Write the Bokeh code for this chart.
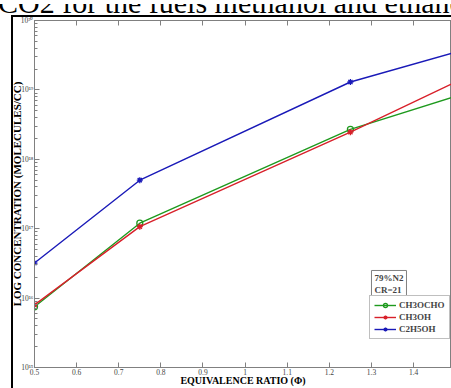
from bokeh.plotting import figure
from bokeh.layouts import column
from bokeh.models import (Range1d, LinearAxis, Label, CustomJSTickFormatter, FixedTicker,
                          Legend, LegendItem, Div)
from bokeh.embed import file_html
from bokeh.resources import INLINE

# ---- data ----
phi = [0.5, 0.75, 1.25, 1.5]
ch3ocho = [7.5e15, 1.2e17, 2.7e18, 8.1e18]
ch3oh = [8.0e15, 1.07e17, 2.46e18, 1.3e19]
c2h5oh = [3.2e16, 5.0e17, 1.3e19, 3.5e19]
series_names = ["CH3OCHO", "CH3OH", "C2H5OH"]
x_ticks = [0.5, 0.6, 0.7, 0.8, 0.9, 1.0, 1.1, 1.2, 1.3, 1.4, 1.5]
x_tick_labels = ["0.5", "0.6", "0.7", "0.8", "0.9", "1", "1.1", "1.2", "1.3", "1.4", "1.5"]
y_ticks = [1e15, 1e16, 1e17, 1e18, 1e19, 1e20]
caption = "CO2 for the fuels methanol and ethanol"
note = "79%N2\nCR=21"

GRAY = "#808080"
SERIF = "Liberation Serif"
NARROW = "Liberation Sans Narrow"

p = figure(width=451, height=380, output_backend="svg", toolbar_location=None,
           y_axis_type="log", x_range=Range1d(0.5, 1.49), y_range=Range1d(1e15, 1e20),
           min_border_left=34, min_border_right=0, min_border_top=12, min_border_bottom=20,
           margin=(0, 0, 0, 0))
p.background_fill_color = "white"
p.border_fill_color = "white"
p.outline_line_color = GRAY
p.grid.visible = False

minor = [k * t for t in y_ticks[:-1] for k in range(2, 10)]

xa = p.xaxis[0]
xa.ticker = FixedTicker(ticks=x_ticks, minor_ticks=[])
xa.major_label_overrides = {t: l for t, l in zip(x_ticks, x_tick_labels)}
xa.axis_label = "EQUIVALENCE RATIO (\u03a6)"
ya = p.yaxis[0]
ya.ticker = FixedTicker(ticks=y_ticks, minor_ticks=minor)
ya.formatter = CustomJSTickFormatter(code="""
const sup = {'0':'\u2070','1':'\u00b9','2':'\u00b2','3':'\u00b3','4':'\u2074','5':'\u2075','6':'\u2076','7':'\u2077','8':'\u2078','9':'\u2079'};
const e = Math.round(Math.log10(tick)).toString();
return '10' + e.split('').map(c => sup[c]).join('');
""")
ya.axis_label = "LOG CONCENTRATION (MOLECULES/CC)"

for ax in (xa, ya):
    ax.axis_line_color = GRAY
    ax.major_tick_line_color = GRAY
    ax.minor_tick_line_color = GRAY
    ax.major_tick_in = 5
    ax.major_tick_out = 0
    ax.minor_tick_in = 3
    ax.minor_tick_out = 0
    ax.major_label_text_font = NARROW
    ax.major_label_text_color = "#444444"
    ax.axis_label_text_font = SERIF
    ax.axis_label_text_font_style = "bold"
    ax.axis_label_text_color = "black"
xa.major_label_text_font_size = "7.5px"
ya.major_label_text_font_size = "7.5px"
xa.major_label_standoff = 1
xa.axis_label_standoff = -3
xa.axis_label_text_font_size = "10px"
ya.major_label_standoff = 1
ya.axis_label_standoff = -5
ya.axis_label_text_font_size = "11px"

top = LinearAxis(ticker=FixedTicker(ticks=x_ticks, minor_ticks=[]),
                 formatter=CustomJSTickFormatter(code="return '';"),
                 axis_line_color=GRAY, major_tick_line_color=GRAY, major_tick_in=5,
                 major_tick_out=0, minor_tick_out=0, major_label_standoff=0)
p.add_layout(top, "above")

colors = ["#1e9a1e", "#d8202a", "#1a1ab8"]
markers = ["circle", "asterisk", "asterisk"]
fills = [None, "#d8202a", "#1a1ab8"]
items = []
for name, vals, c, m, f in zip(series_names, [ch3ocho, ch3oh, c2h5oh], colors, markers, fills):
    r1 = p.line(phi, vals, line_color=c, line_width=1.4)
    r2 = p.scatter(phi, vals, marker=m, size=6, line_color=c, fill_color=f, line_width=1.3)
    items.append(LegendItem(label=name, renderers=[r1, r2]))

legend = Legend(items=items, location=(335, 28), orientation="vertical")
legend.label_text_font = SERIF
legend.label_text_font_style = "bold"
legend.label_text_font_size = "9px"
legend.label_height = 10
legend.glyph_height = 10
legend.glyph_width = 22
legend.spacing = 2
legend.padding = 4
legend.margin = 0
legend.label_standoff = 3
legend.border_line_color = GRAY
legend.background_fill_alpha = 1
p.add_layout(legend, "center")

lab = Label(x=1.3, y=2.5e16, text=note, text_font=SERIF, text_font_style="bold",
            text_font_size="9px", text_baseline="top", text_align="left",
            border_line_color=GRAY, background_fill_color="white", padding=3)
p.add_layout(lab)

cap_html = (
    '<div style="position:relative;width:451px;height:8px;overflow:visible">'
    '<div style="position:absolute;left:0;top:0;width:451px;height:11px;overflow:hidden;z-index:10">'
    '<span style="position:absolute;left:-2px;top:-16px;font-family:\'Liberation Serif\';'
    'font-size:30px;line-height:30px;white-space:nowrap;color:black">' + caption + '</span></div>'
    '<div style="position:absolute;left:11px;top:11px;width:1.6px;height:400px;background:black;z-index:10"></div>'
    '<div style="position:absolute;left:11px;top:11px;width:460px;height:1.6px;background:black;z-index:10"></div>'
    '</div>')
cap = Div(text=cap_html, width=451, height=8, margin=(0, 0, 0, 0),
          styles={"overflow": "visible", "z-index": "10"})

layout = column(cap, p, spacing=0, margin=0)
open("out.html", "w").write(file_html(layout, INLINE))
